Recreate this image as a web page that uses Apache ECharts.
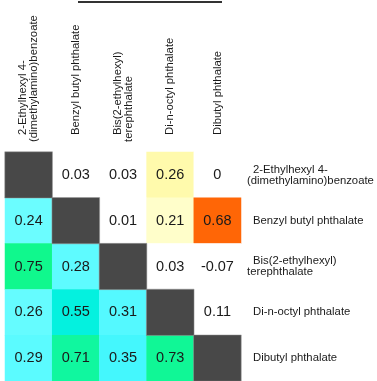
<!DOCTYPE html>
<html>
<head>
<meta charset="utf-8">
<script src="https://cdn.jsdelivr.net/npm/echarts@6/dist/echarts.min.js"></script>
<style>
  html, body { margin: 0; padding: 0; background: #fff; }
  #chart { width: 377px; height: 381px; }
</style>
</head>
<body>
<div id="chart"></div>
<script>
// Compounds, in matrix order (rows top to bottom, columns left to right)
const compounds = [
  '2-Ethylhexyl 4-\n(dimethylamino)benzoate',
  'Benzyl butyl phthalate',
  'Bis(2-ethylhexyl)\nterephthalate',
  'Di-n-octyl phthalate',
  'Dibutyl phthalate'
];

// Pairwise values per row; null marks the diagonal
const row0 = [null, 0.03, 0.03, 0.26, 0];
const row1 = [0.24, null, 0.01, 0.21, 0.68];
const row2 = [0.75, 0.28, null, 0.03, -0.07];
const row3 = [0.26, 0.55, 0.31, null, 0.11];
const row4 = [0.29, 0.71, 0.35, 0.73, null];
const matrix = [row0, row1, row2, row3, row4];

const lowerCells = [];
const upperCells = [];
const diagCells = [];
matrix.forEach((row, r) => {
  row.forEach((v, c) => {
    if (r === c) diagCells.push([c, r, 1]);
    else if (r > c) lowerCells.push([c, r, v]);
    else upperCells.push([c, r, v]);
  });
});

const FONT = '"Liberation Sans", Arial, sans-serif';

// First line of a label gets a small indent, the second line starts flush
function labelRich(name) {
  const parts = name.split('\n');
  if (parts.length === 1) return '{a|' + parts[0] + '}';
  return '{a|' + parts[0] + '}\n{b|' + parts[1] + '}';
}

function richStyles(indent) {
  return {
    a: { fontFamily: FONT, fontSize: 11.3, lineHeight: 11, color: '#1a1a1a', padding: [0, 0, 0, indent] },
    b: { fontFamily: FONT, fontSize: 11.3, lineHeight: 11, color: '#1a1a1a' }
  };
}

const cellLabel = {
  show: true,
  fontFamily: FONT,
  fontSize: 14.5,
  color: '#1a1a1a',
  formatter: p => String(p.value[2])
};

const chart = echarts.init(document.getElementById('chart'), null, { renderer: 'canvas' });

chart.setOption({
  backgroundColor: '#ffffff',
  animation: false,
  grid: { left: 5, top: 152, width: 236, height: 236 },
  xAxis: {
    type: 'category',
    data: compounds,
    position: 'top',
    axisLine: { show: false },
    axisTick: { show: false },
    splitLine: { show: false },
    axisLabel: {
      interval: 0,
      rotate: -90,
      margin: 10,
      formatter: labelRich,
      rich: richStyles(7)
    }
  },
  yAxis: {
    type: 'category',
    data: compounds,
    inverse: true,
    position: 'right',
    axisLine: { show: false },
    axisTick: { show: false },
    splitLine: { show: false },
    axisLabel: {
      interval: 0,
      margin: 6,
      align: 'left',
      formatter: labelRich,
      rich: richStyles(6)
    }
  },
  visualMap: [
    {
      type: 'continuous',
      show: false,
      seriesIndex: 0,
      dimension: 2,
      min: 0.2,
      max: 0.8,
      inRange: { color: ['#78ffff', '#58faff', '#30f4fa', '#08f0ee', '#00f2d0', '#10f7a4', '#10f876'] }
    },
    {
      type: 'continuous',
      show: false,
      seriesIndex: 1,
      dimension: 2,
      min: -0.1,
      max: 0.7,
      inRange: {
        color: ['#ffffff', '#ffffff', '#ffffff', '#ffffff', '#ffffff', '#ffffff',
                '#ffffd0', '#fffbb0', '#fff59c', '#ffe585', '#ffd070', '#ffb855',
                '#ffa040', '#ff9030', '#ff8020', '#ff7010', '#ff6000']
      }
    }
  ],
  series: [
    {
      name: 'lower',
      type: 'heatmap',
      data: lowerCells,
      label: cellLabel,
      itemStyle: { borderWidth: 0 },
      emphasis: { disabled: true }
    },
    {
      name: 'upper',
      type: 'heatmap',
      data: upperCells,
      label: cellLabel,
      itemStyle: { borderWidth: 0 },
      emphasis: { disabled: true }
    },
    {
      name: 'diagonal',
      type: 'heatmap',
      data: diagCells,
      label: { show: false },
      itemStyle: { color: '#484848', borderColor: '#9a9a9a', borderWidth: 0.5 },
      emphasis: { disabled: true }
    }
  ],
  graphic: [
    {
      type: 'line',
      shape: { x1: 78, y1: 2, x2: 222, y2: 2 },
      style: { stroke: '#333333', lineWidth: 2 }
    }
  ]
});
</script>
</body>
</html>
